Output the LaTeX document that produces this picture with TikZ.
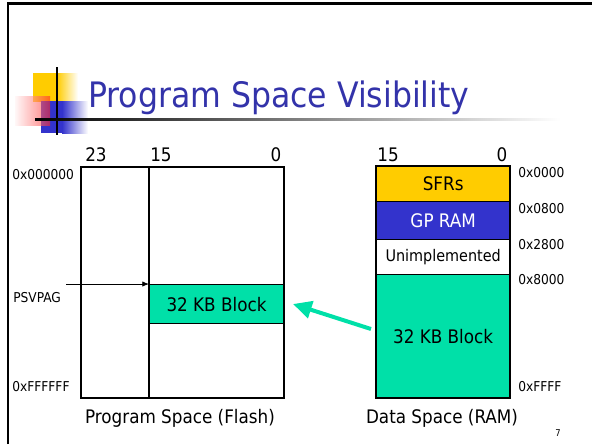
\documentclass[tikz,border=0pt]{standalone}
\usepackage{fontspec}
\setmainfont{DejaVu Sans Condensed}
\usetikzlibrary{arrows.meta,calc}
\definecolor{ttl}{RGB}{51,51,170}
\definecolor{grn}{RGB}{0,224,168}
\definecolor{yel}{RGB}{255,204,0}
\definecolor{gpb}{RGB}{51,51,204}
\begin{document}
\begin{tikzpicture}[x=0.75pt,y=-0.75pt,
  lbl/.style={font=\fontsize{14}{16}\selectfont, inner sep=0},
  addr/.style={font=\fontsize{10.2}{12}\selectfont, inner sep=0, anchor=west},
  memcell/.style={draw, line width=1pt, inner sep=0, anchor=north west,
     minimum width={133*0.75pt}, font=\fontsize{14}{16}\selectfont}]
\useasboundingbox (0,0) rectangle (592,444);
% slide frame
\draw[line width=1.6pt] (8,444) -- (8,3.5) -- (592,3.5);
% logo
\fill[yel] (33,73) rectangle (57,102);
\shade[left color=yel, right color=white] (57,73) rectangle (78,102);
\fill[gpb] (41,101) rectangle (62,133);
\shade[left color=gpb, right color=white] (62,101) rectangle (88,133);
\shade[left color=red!5, right color=red!85, opacity=0.6] (15,96) rectangle (50,125);
\draw[line width=1.6pt] (57,67) -- (57,135);
\shade[left color=black, right color=white] (35,118) rectangle (560,120.5);
% title
\node[anchor=base west, inner sep=0, text=ttl, font=\fontsize{26.3}{30}\selectfont] (title) at (88,107) {Program Space Visibility};
% program space
\node[fill=grn, draw, line width=0.8pt, inner sep=0, anchor=north west, minimum width={134*0.75pt}, minimum height={39*0.75pt}, font=\fontsize{14}{16}\selectfont] (pblk) at (149,284) {32 KB Block};
\node[draw, line width=1.5pt, inner sep=0, anchor=north west, minimum width={203*0.75pt}, minimum height={231*0.75pt}] (prog) at (80,166) {};
\coordinate (dtop) at (149,166);
\coordinate (dbot) at (149,397);
\draw[line width=2pt] (dtop) -- (dbot);
\node[lbl] (b23) at (96,155) {23};
\node[lbl] (b15) at (161,155) {15};
\node[lbl] (b0) at (276,155) {0};
\node[addr] (a0) at (12,175) {0x000000};
\node[addr] (psv) at (13,298) {PSVPAG};
\node[addr] (af) at (12,387) {0xFFFFFF};
\coordinate (psvs) at (66,284);
\draw[line width=0.6pt, -{Latex[length=5pt,width=4pt]}] (psvs) -- (pblk.north west);
\node[lbl] (pcap) at (180,418) {Program Space (Flash)};
% data space
\node[memcell, fill=yel, minimum height={35*0.75pt}] (sfr) at (376,166) {SFRs};
\node[memcell, fill=gpb, text=white, minimum height={38*0.75pt}] (gpr) at (376,201) {GP RAM};
\node[memcell, fill=white, minimum height={35*0.75pt}, font=\fontsize{12}{14}\selectfont] (unim) at (376,239) {Unimplemented};
\node[memcell, fill=grn, minimum height={123*0.75pt}] (dblk) at (376,274) {32 KB Block};
\draw[line width=1.5pt] (sfr.north west) rectangle (dblk.south east);
\node[lbl] (r15) at (388,155) {15};
\node[lbl] (r0) at (502,155) {0};
\node[addr] (r1) at (518,173) {0x0000};
\node[addr] (r2) at (518,209) {0x0800};
\node[addr] (r3) at (518,245) {0x2800};
\node[addr] (r4) at (518,280) {0x8000};
\node[addr] (r5) at (518,387) {0xFFFF};
\node[lbl] (dcap) at (442,418) {Data Space (RAM)};
\node[inner sep=0, font=\fontsize{7}{8}\selectfont] (pg) at (558,433) {7};
% green arrow
\coordinate (gs) at (371,329);
\coordinate (ge) at (293,304);
\draw[grn, line width=3pt, -{Triangle[length=14pt,width=13pt]}] (gs) -- (ge);
\end{tikzpicture}
\end{document}
